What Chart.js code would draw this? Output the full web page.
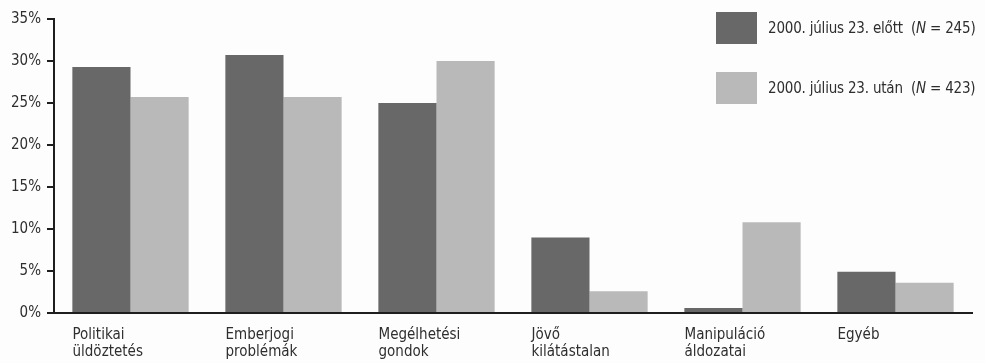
<!DOCTYPE html>
<html lang="hu">
<head>
<meta charset="utf-8">
<script src="https://cdn.jsdelivr.net/npm/chart.js@4"></script>
<style>
    html, body { margin: 0; padding: 0; background: #fdfdfd; }
    #wrap { position: relative; width: 985px; height: 363px; }
    #legend {
        position: absolute; left: 716px; top: 12px;
        font-family: "DejaVu Sans Condensed", "DejaVu Sans", sans-serif;
        font-stretch: condensed;
        font-size: 15px; letter-spacing: -0.2px; color: #2e2e2e;
    }
    #legend .item { display: flex; align-items: center; height: 32px; margin-bottom: 28px; }
    #legend .box { width: 41px; height: 32px; margin-right: 11px; }
</style>
</head>
<body>
<div id="wrap">
    <canvas id="chart" width="985" height="363"></canvas>
    <div id="legend"></div>
</div>
<script>
// Okok szerinti megoszlás, két időszak
const categories = [
    ['Politikai', 'üldöztetés'],
    ['Emberjogi', 'problémák'],
    ['Megélhetési', 'gondok'],
    ['Jövő', 'kilátástalan'],
    ['Manipuláció', 'áldozatai'],
    ['Egyéb']
];
const before = [29.3, 30.7, 25.0, 9.0, 0.6, 4.9];
const after = [25.7, 25.7, 30.0, 2.6, 10.8, 3.6];
const seriesLabels = [
    ['2000. július 23. előtt', '245'],
    ['2000. július 23. után', '423']
];
const yTicks = [0, 5, 10, 15, 20, 25, 30, 35];

const font = '"Liberation Sans Narrow", "DejaVu Sans Condensed", sans-serif';
const textColor = '#2e2e2e';

// Legend built as HTML so the italic N can be kept
const htmlLegend = {
    id: 'htmlLegend',
    afterUpdate(chart) {
        const box = document.getElementById('legend');
        box.innerHTML = '';
        chart.data.datasets.forEach((ds, i) => {
            const item = document.createElement('div');
            item.className = 'item';
            const swatch = document.createElement('div');
            swatch.className = 'box';
            swatch.style.background = ds.backgroundColor;
            const txt = document.createElement('span');
            txt.innerHTML = seriesLabels[i][0] + '&nbsp; (<i>N</i> = ' + seriesLabels[i][1] + ')';
            item.appendChild(swatch);
            item.appendChild(txt);
            box.appendChild(item);
        });
    }
};

new Chart(document.getElementById('chart'), {
    type: 'bar',
    data: {
        labels: categories,
        datasets: [
            {
                label: seriesLabels[0][0],
                data: before,
                backgroundColor: '#686868',
                categoryPercentage: 0.76,
                barPercentage: 1
            },
            {
                label: seriesLabels[1][0],
                data: after,
                backgroundColor: '#b9b9b9',
                categoryPercentage: 0.76,
                barPercentage: 1
            }
        ]
    },
    plugins: [htmlLegend],
    options: {
        responsive: false,
        animation: false,
        layout: { padding: { top: 19, right: 13, left: 0, bottom: 0 } },
        plugins: {
            legend: { display: false },
            tooltip: { enabled: false }
        },
        scales: {
            x: {
                grid: { display: false },
                border: { color: '#1e1e1e', width: 2 },
                afterFit(scale) { scale.height = 50; },
                ticks: {
                    autoSkip: false,
                    maxRotation: 0,
                    align: 'start',
                    labelOffset: -58,
                    padding: 6,
                    color: textColor,
                    font: { family: font, size: 15, lineHeight: 1.13 }
                }
            },
            y: {
                min: 0,
                max: 35,
                afterFit(scale) { scale.width = 54; },
                afterBuildTicks(scale) {
                    scale.ticks = yTicks.map(v => ({ value: v }));
                },
                grid: {
                    drawOnChartArea: false,
                    drawTicks: true,
                    tickLength: 7,
                    color: '#1e1e1e',
                    lineWidth: 2
                },
                border: { color: '#1e1e1e', width: 2 },
                ticks: {
                    padding: 6,
                    color: textColor,
                    font: { family: font, size: 15 },
                    callback: v => v + '%'
                }
            }
        }
    }
});
</script>
</body>
</html>
